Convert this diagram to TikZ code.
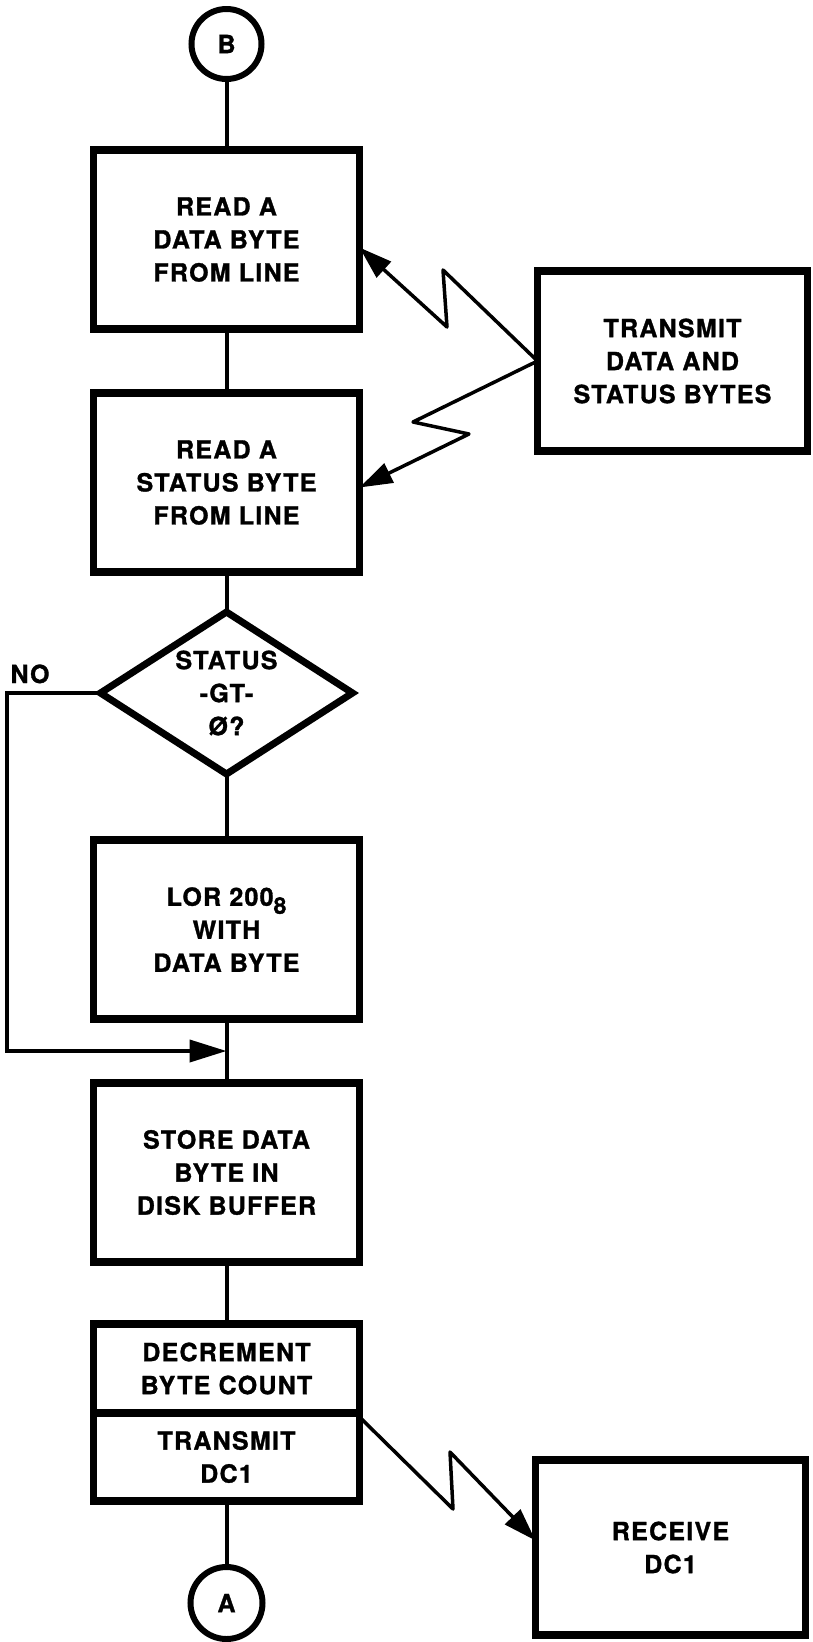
\documentclass[tikz,border=0pt]{standalone}
\usepackage{fontspec}
\setmainfont{TeX Gyre Heros}[LetterSpace=5, BoldFeatures={FakeBold=1.2}]
\usepackage{tikz}
\usetikzlibrary{shapes.geometric, arrows.meta, positioning, calc}
\newcommand{\flfont}{\bfseries\fontsize{25}{33}\selectfont}
\tikzset{
  blk/.style ={rectangle, draw, line width=7.5pt, align=center, font=\flfont,
               minimum width=266pt, minimum height=179pt, inner sep=0pt, outer sep=0pt},
  blkr/.style={blk, minimum width=270pt},
  dia/.style ={diamond, draw, line width=7pt, align=center, font=\flfont,
               aspect=1.556, minimum width=252pt, minimum height=162pt,
               inner sep=0pt, outer sep=0pt},
  con/.style ={circle, draw, line width=6pt, font=\flfont, minimum size=70pt,
               inner sep=0pt, outer sep=0pt},
  lbl/.style ={font=\flfont, inner sep=0pt},
  ln/.style  ={line width=4pt},
  ar/.style  ={-{Triangle[length=37pt,width=22pt]}, line width=4pt},
  zap/.style ={-{Triangle[length=33pt,width=21pt]}, line width=3.5pt, line join=round},
}
\begin{document}
\begin{tikzpicture}
\useasboundingbox (0,0) rectangle (813pt,-1642pt);
% main column
\node[con] (B) at (226.5pt,-44pt) {B};
\node[blk, below=71pt of B]   (rd)  {READ A\\DATA BYTE\\FROM LINE};
\node[blk, below=64pt of rd]  (rs)  {READ A\\STATUS BYTE\\FROM LINE};
\node[dia, below=40pt of rs]  (gt)  {STATUS\\-GT-\\Ø?};
\node[blk, below=66pt of gt]  (lor) {LOR 200\raisebox{-8pt}{\fontsize{23}{23}\selectfont 8}\\WITH\\DATA BYTE};
\node[blk, below=64pt of lor] (sto) {STORE DATA\\BYTE IN\\DISK BUFFER};
\node[blk, below=62pt of sto, minimum height=89pt] (dcr) {DECREMENT\\BYTE COUNT};
\node[blk, below=0pt of dcr, minimum height=88pt]  (txd) {TRANSMIT\\DC1};
\node[con, below=66pt of txd, minimum size=72pt]   (A)   {A};
% remote side
\coordinate (mid) at ($(rd.east)!0.5!(rs.east)$);
\node[blkr, right=178pt of mid, minimum height=180pt] (tx) {TRANSMIT\\DATA AND\\STATUS BYTES};
\node[blkr, below right=47pt and 176pt of dcr.south east, minimum height=175pt] (rx) {RECEIVE\\DC1};
\coordinate (j) at ($(lor.south)!0.5!(sto.north)$);
% flow
\draw[ln] (B) -- (rd); \draw[ln] (rd) -- (rs); \draw[ln] (rs) -- (gt);
\draw[ln] (gt) -- (lor); \draw[ln] (lor) -- (sto); \draw[ln] (sto) -- (dcr);
\draw[ln] (txd) -- (A);
\draw[ar] (gt.west) -- ++(-94pt,0) node[lbl, anchor=base west, shift={(2pt,10pt)}] (no) {NO} |- (j);
% line links
\draw[zap] (tx.west) -- ++(-94.5pt,91pt) -- ++(4pt,-57pt) -- ([yshift=-8pt]rd.east);
\draw[zap] (tx.west) -- ++(-124.5pt,-61pt) -- ++(56pt,-12pt) -- ([yshift=-5pt]rs.east);
\draw[zap] ([yshift=-4pt]dcr.south east) -- ++(93.5pt,-92pt) -- ++(-3pt,57pt) -- ([yshift=7pt]rx.west);
\end{tikzpicture}
\end{document}
